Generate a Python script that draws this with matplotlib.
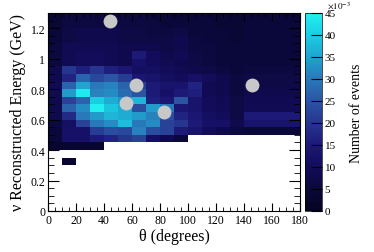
import numpy as np
import matplotlib
matplotlib.use("Agg")
import matplotlib.pyplot as plt
from matplotlib.colors import LinearSegmentedColormap
from matplotlib.ticker import MultipleLocator

plt.rcParams['font.family'] = ['Liberation Serif', 'DejaVu Serif']
plt.rcParams['mathtext.fontset'] = 'stix'

# ---- data (counts in units of 1e-3) ----
theta_edges = np.arange(0, 181, 10)
energy_edges = np.round(np.arange(0.30, 1.301, 0.05), 2)

row_030 = [0, 3, 0, 0, 0, 0, 0, 0, 0, 0, 0, 0, 0, 0, 0, 0, 0, 0]
row_035 = [0] * 18
row_040 = [3, 3, 3, 3, 0, 0, 0, 0, 0, 0, 0, 0, 0, 0, 0, 0, 0, 0]
row_045 = [5, 12, 12, 15, 17, 20, 22, 11, 8, 5, 0, 0, 0, 0, 0, 0, 0, 0]
row_050 = [5, 12, 12, 21, 24, 23, 31, 24, 22, 15, 13, 10, 8, 6, 5, 5, 5, 5]
row_055 = [6, 11, 22, 30, 32, 38, 30, 32, 22, 20, 15, 12, 12, 8, 13, 13, 13, 13]
row_060 = [8, 18, 30, 34, 37, 36, 34, 31, 24, 17, 14, 11, 10, 7, 15, 15, 15, 15]
row_065 = [8, 27, 32, 45, 39, 36, 24, 34, 30, 14, 13, 10, 9, 7, 9, 9, 9, 9]
row_070 = [8, 22, 27, 40, 36, 33, 37, 16, 14, 25, 13, 10, 9, 7, 9, 9, 9, 9]
row_075 = [9, 34, 44, 31, 32, 28, 25, 15, 12, 15, 16, 9, 8, 6, 8, 8, 8, 8]
row_080 = [9, 27, 35, 30, 31, 27, 21, 15, 13, 13, 17, 9, 8, 6, 7, 7, 7, 7]
row_085 = [8, 17, 27, 23, 25, 21, 14, 13, 11, 10, 12, 10, 8, 6, 7, 7, 7, 7]
row_090 = [8, 20, 16, 20, 16, 14, 11, 11, 10, 9, 8, 7, 6, 5, 6, 6, 6, 6]
row_095 = [6, 9, 10, 10, 9, 8, 12, 10, 9, 8, 7, 6, 5, 5, 5, 5, 5, 5]
row_100 = [6, 9, 10, 10, 9, 8, 15, 10, 8, 9, 7, 6, 5, 5, 5, 5, 5, 5]
row_105 = [6, 9, 9, 9, 9, 8, 8, 8, 7, 8, 6, 6, 5, 5, 5, 5, 5, 5]
row_110 = [5, 7, 8, 8, 8, 7, 7, 7, 7, 8, 6, 5, 5, 4, 5, 5, 5, 5]
row_115 = [5, 7, 8, 8, 8, 7, 7, 6, 6, 7, 5, 5, 5, 4, 5, 5, 5, 5]
row_120 = [4, 6, 6, 6, 6, 6, 6, 6, 5, 5, 5, 5, 4, 4, 5, 5, 5, 5]
row_125 = [4, 6, 6, 6, 6, 6, 6, 5, 5, 5, 5, 5, 4, 4, 5, 5, 5, 5]

marker_theta = [44, 63, 56, 83, 146]
marker_energy = [1.248, 0.828, 0.708, 0.651, 0.828]

x_ticks = list(range(0, 181, 20))
y_ticks = [0, 0.2, 0.4, 0.6, 0.8, 1.0, 1.2]
y_tick_labels = ["0", "0.2", "0.4", "0.6", "0.8", "1", "1.2"]
cb_ticks = list(range(0, 46, 5))

counts = np.array([row_030, row_035, row_040, row_045, row_050, row_055,
                   row_060, row_065, row_070, row_075, row_080, row_085,
                   row_090, row_095, row_100, row_105, row_110, row_115,
                   row_120, row_125], dtype=float)

# deep-sea like palette (navy -> blue -> cyan)
palette = [(0.00, (4, 4, 32)),
           (0.11, (10, 8, 58)),
           (0.22, (18, 12, 90)),
           (0.33, (28, 24, 118)),
           (0.44, (38, 52, 142)),
           (0.56, (42, 86, 164)),
           (0.67, (40, 122, 186)),
           (0.78, (32, 164, 208)),
           (0.89, (26, 206, 226)),
           (1.00, (34, 240, 240))]
cmap = LinearSegmentedColormap.from_list(
    "deepsea", [(s, tuple(c / 255 for c in rgb)) for s, rgb in palette])

W, H = 374, 253
fig = plt.figure(figsize=(W/100, H/100), dpi=100)
ax = fig.add_axes([48/W, 41/H, 252/W, 198/H])

masked = np.ma.masked_equal(counts, 0)
mesh = ax.pcolormesh(theta_edges, energy_edges, masked, cmap=cmap, vmin=0, vmax=45)
ax.plot(marker_theta, marker_energy, 'o', ms=10, color='#c8c8c8', mec='none', zorder=5)

ax.set_xlim(0, 180)
ax.set_ylim(0, 1.3)
ax.set_xticks(x_ticks)
ax.set_yticks(y_ticks)
ax.set_yticklabels(y_tick_labels)
ax.xaxis.set_minor_locator(MultipleLocator(5))
ax.yaxis.set_minor_locator(MultipleLocator(0.05))
ax.tick_params(which='both', direction='in', top=True, right=True, labelsize=8.5, pad=2)
ax.tick_params(axis='x', which='major', length=6)
ax.tick_params(axis='x', which='minor', length=3)
ax.tick_params(axis='y', which='major', length=8)
ax.tick_params(axis='y', which='minor', length=4)
for sp in ax.spines.values():
    sp.set_linewidth(0.8)

ax.set_xlabel("θ (degrees)", fontsize=11.5, labelpad=1.5)
ax.set_ylabel("ν Reconstructed Energy (GeV)", fontsize=11.5, labelpad=3)

cax = fig.add_axes([305/W, 41/H, 17/W, 198/H])
cb = fig.colorbar(mesh, cax=cax, ticks=cb_ticks)
cb.outline.set_linewidth(0.5)
cax.tick_params(direction='in', length=8, width=0.8, labelsize=8, pad=2)
cb.set_label("Number of events", fontsize=10, labelpad=10)
fig.text(327/W, 1.0, r"$\times10^{-3}$", fontsize=6.5, ha='left', va='top')

fig.savefig("out.png", dpi=100)
